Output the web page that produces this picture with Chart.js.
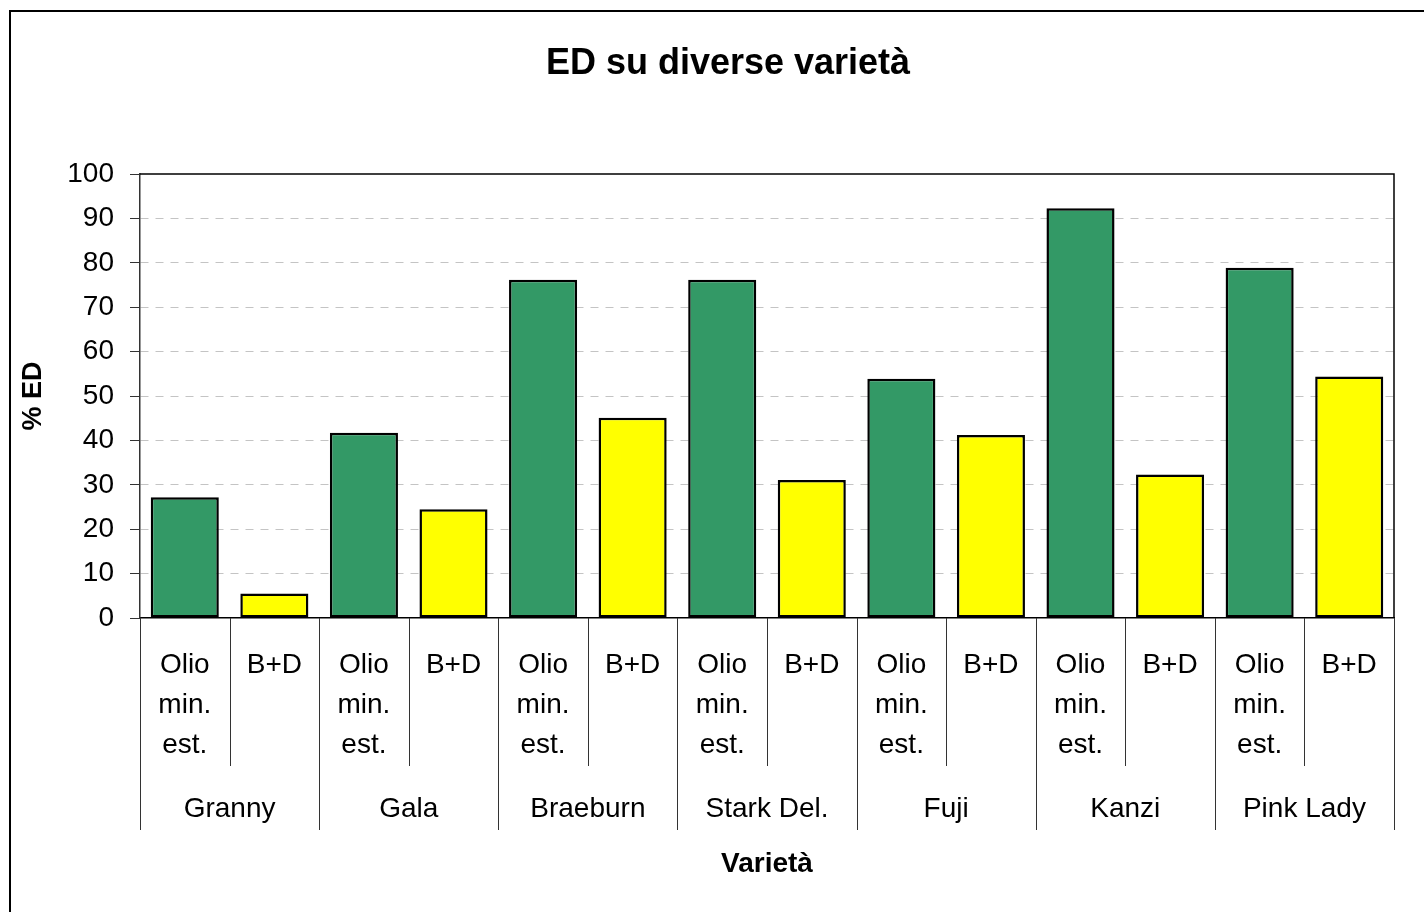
<!DOCTYPE html>
<html>
<head>
<meta charset="utf-8">
<script src="https://cdn.jsdelivr.net/npm/chart.js@4.4.1/dist/chart.umd.min.js"></script>
<style>
    html, body { margin: 0; padding: 0; background: #fff; overflow: hidden; }
    #frame { position: absolute; left: 9px; top: 10px; width: 1500px; height: 1000px; border: 2px solid #000; }
    #chart { position: absolute; left: 0; top: 0; }
</style>
</head>
<body>
<div id="frame"></div>
<canvas id="chart" width="1424" height="912"></canvas>
<script>
// dati
const varieties = ['Granny', 'Gala', 'Braeburn', 'Stark Del.', 'Fuji', 'Kanzi', 'Pink Lady'];
const treatments = [['Olio', 'min.', 'est.'], ['B+D']];
const olioValues = [27.2, 41.7, 76.2, 76.2, 53.9, 92.3, 78.9];
const bdValues = [5.5, 24.5, 45.1, 31.1, 41.2, 32.3, 54.4];
const yMin = 0, yMax = 100, yStep = 10;

const GREEN = '#339966';
const YELLOW = '#FFFF00';
const FONT = '"Liberation Sans", Arial, sans-serif';

// una barra per ogni coppia varietà / trattamento
const labels = [], values = [], colors = [];
varieties.forEach((v, i) => {
    labels.push(treatments[0]); values.push(olioValues[i]); colors.push(GREEN);
    labels.push(treatments[1]); values.push(bdValues[i]); colors.push(YELLOW);
});

// separatori e nomi delle varietà sotto l'asse x
const groupAxis = {
    id: 'groupAxis',
    afterLayout(chart) {
        const t = chart.titleBlock;
        if (t) { t.left += 31; t.right += 31; }
    },
    afterDraw(chart) {
        const { ctx, chartArea: a, scales: { x } } = chart;
        const n = labels.length;
        const step = x.getPixelForTick(1) - x.getPixelForTick(0);
        ctx.save();

        ctx.strokeStyle = '#000';
        ctx.lineWidth = 1.5;
        ctx.beginPath();
        ctx.moveTo(a.left, a.top);
        ctx.lineTo(a.right, a.top);
        ctx.lineTo(a.right, a.bottom);
        ctx.stroke();

        ctx.lineWidth = 1;
        ctx.strokeStyle = '#333';
        for (let i = 0; i <= n; i++) {
            const px = i < n ? x.getPixelForTick(i) - step / 2 : x.getPixelForTick(n - 1) + step / 2;
            const xx = Math.round(px) + 0.5;
            const len = i % 2 === 0 ? 212 : 148;
            ctx.beginPath();
            ctx.moveTo(xx, a.bottom);
            ctx.lineTo(xx, a.bottom + len);
            ctx.stroke();
        }

        ctx.font = '28px ' + FONT;
        ctx.fillStyle = '#000';
        ctx.textAlign = 'center';
        ctx.textBaseline = 'middle';
        varieties.forEach((v, i) => {
            const cx = (x.getPixelForTick(2 * i) + x.getPixelForTick(2 * i + 1)) / 2;
            ctx.fillText(v, cx, a.bottom + 191);
        });
        ctx.restore();
    }
};

new Chart(document.getElementById('chart'), {
    type: 'bar',
    data: {
        labels,
        datasets: [{
            data: values,
            backgroundColor: colors,
            borderColor: '#000',
            borderWidth: 2.5,
            borderSkipped: false,
            barPercentage: 0.76,
            categoryPercentage: 1
        }]
    },
    options: {
        responsive: false,
        animation: false,
        events: [],
        layout: { padding: { left: 0, right: 30, top: 0, bottom: 0 } },
        plugins: {
            legend: { display: false },
            tooltip: { enabled: false },
            title: {
                display: true,
                text: 'ED su diverse varietà',
                color: '#000',
                font: { family: FONT, size: 36, weight: 'bold', lineHeight: 1.2 },
                padding: { top: 42, bottom: 88.8 }
            }
        },
        scales: {
            x: {
                afterFit: s => { s.height = 294; },
                grid: { drawOnChartArea: false, drawTicks: false },
                border: { display: true, color: '#000', width: 1.5 },
                ticks: {
                    color: '#000',
                    padding: 27,
                    maxRotation: 0,
                    autoSkip: false,
                    font: { family: FONT, size: 28, lineHeight: 1.43 }
                },
                title: {
                    display: true,
                    text: 'Varietà',
                    color: '#000',
                    font: { family: FONT, size: 28, weight: 'bold', lineHeight: 1.2 },
                    padding: { top: 0, bottom: 31 }
                }
            },
            y: {
                min: yMin,
                max: yMax,
                afterFit: s => { s.width = 140; },
                grid: {
                    color: c => (c.tick && (c.tick.value === yMin || c.tick.value === yMax)) ? 'rgba(0,0,0,0)' : '#c4c4c4',
                    tickColor: '#333',
                    tickLength: 10,
                    lineWidth: 1
                },
                border: { display: true, color: '#333', width: 1.5, dash: [8, 7] },
                ticks: {
                    stepSize: yStep,
                    color: '#000',
                    padding: 16,
                    font: { family: FONT, size: 28 }
                },
                title: {
                    display: true,
                    text: '% ED',
                    color: '#000',
                    font: { family: FONT, size: 27, weight: 'bold', lineHeight: 1.2 },
                    padding: { top: 17, bottom: 0 }
                }
            }
        }
    },
    plugins: [groupAxis]
});
</script>
</body>
</html>
